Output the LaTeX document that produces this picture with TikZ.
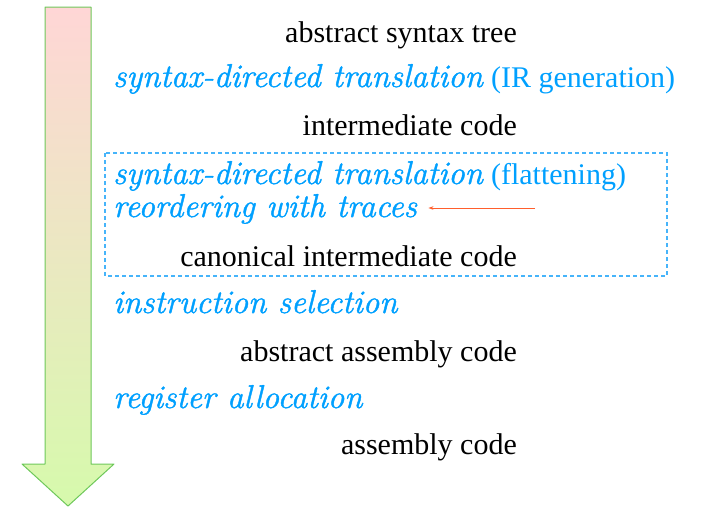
\documentclass[tikz,border=0pt]{standalone}
\usepackage{fontspec}
\setmainfont{Liberation Serif}
\newfontfamily\lmroman[FakeBold=1.3]{Latin Modern Roman}
\usepackage{tikz}
\usetikzlibrary{arrows.meta}
\definecolor{phaseBlue}{RGB}{0,160,255}
\definecolor{boxBlue}{RGB}{70,180,250}
\definecolor{traceRed}{RGB}{255,95,45}
\definecolor{arrowTop}{RGB}{255,214,214}
\definecolor{arrowMid}{RGB}{236,230,196}
\definecolor{arrowBot}{RGB}{214,250,172}
\definecolor{arrowEdge}{RGB}{110,200,90}
\newcommand{\phasename}[1]{{\lmroman\fontsize{33}{38}\selectfont\itshape #1\/}}

\begin{document}
\begin{tikzpicture}[x=1pt,y=-1pt,
    repr/.style={anchor=base east, inner sep=0pt, font=\fontsize{30}{36}\selectfont},
    pass/.style={anchor=base west, inner sep=0pt, text=phaseBlue, font=\fontsize{30}{36}\selectfont}]

    \useasboundingbox (0,0) rectangle (707,507);

    % big flow arrow on the left
    \shade[top color=arrowTop, middle color=arrowMid, bottom color=arrowBot]
        (45,7) -- (91,7) -- (91,464) -- (114,464) -- (68,506) -- (22,464) -- (45,464) -- cycle;
    \draw[arrowEdge, line width=1pt, line join=round]
        (45,7) -- (91,7) -- (91,464) -- (114,464) -- (68,506) -- (22,464) -- (45,464) -- cycle;

    % representations
    \node[repr] (ast)   at (517,42)  {abstract syntax tree};
    \node[repr] (ir)    at (517,135) {intermediate code};
    \node[repr] (canon) at (517,266) {canonical intermediate code};
    \node[repr] (abs)   at (517,361) {abstract assembly code};
    \node[repr] (asm)   at (517,454) {assembly code};

    % passes
    \node[pass] (irgen) at (113,87)  {\phasename{syntax-directed translation} (IR generation)};
    \node[pass] (flat)  at (113,184) {\phasename{syntax-directed translation} (flattening)};
    \node[pass] (reord) at (113,217) {\phasename{reordering with traces}};
    \node[pass] (isel)  at (113,313) {\phasename{instruction selection}};
    \node[pass] (ralloc) at (113,408) {\phasename{register allocation}};

    % canonicalisation box
    \coordinate (boxNW) at (105,153);
    \coordinate (boxSE) at (667,276);
    \draw[boxBlue, line width=1.1pt, dash pattern=on 4pt off 3pt] (boxNW) rectangle (boxSE);

    % pointer to the traces pass
    \coordinate (traceTail) at (535,208);
    \draw[traceRed, line width=0.9pt, -{Stealth[length=5pt,width=3.5pt]}]
        (traceTail) -- ([xshift=11pt]reord.east |- traceTail);

\end{tikzpicture}
\end{document}
